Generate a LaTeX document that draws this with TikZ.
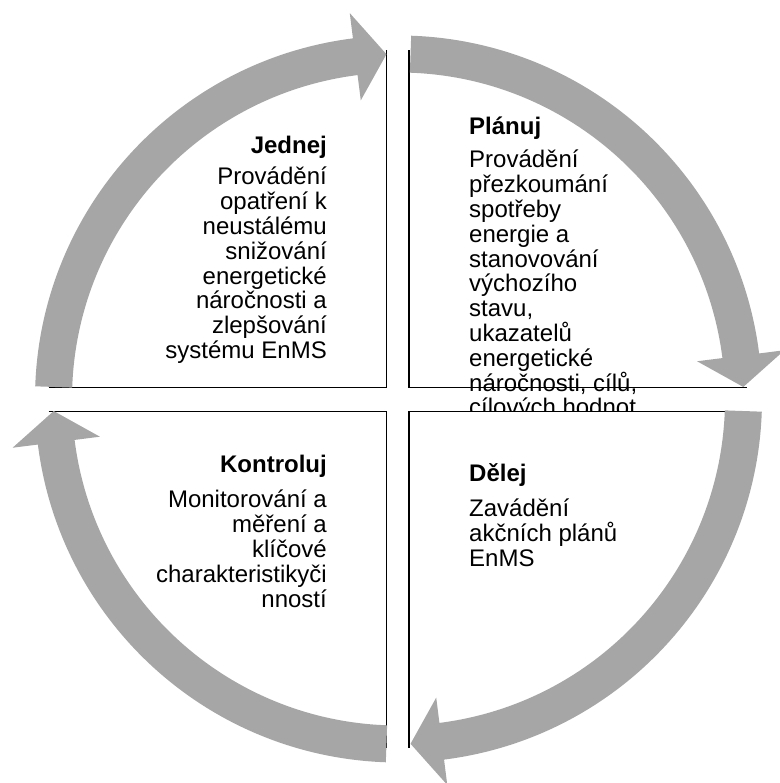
\documentclass[tikz,border=0pt]{standalone}
\usepackage{fontspec}
\setmainfont{Liberation Sans}
\usetikzlibrary{positioning}

\definecolor{cyclegray}{RGB}{166,166,166}

\tikzset{
  quadbox/.style={fill=white, inner sep=0pt, outer sep=0pt, minimum width=338, minimum height=337},
  quadline/.style={line width=1.8pt, black},
  titletext/.style={font=\fontsize{24}{24.8}\selectfont\bfseries, inner sep=0pt},
  bodytext/.style={font=\fontsize{24}{24.8}\selectfont, inner sep=0pt},
  cyclearrow/.style={fill=cyclegray},
}

\begin{document}
\begin{tikzpicture}[x=1pt,y=1pt]
  \useasboundingbox (0,0) rectangle (779,783);
  \coordinate (c) at (398.5,384);

  % the four quadrants (base of a text block = its last line)
  \node[quadbox] (tlbox) at (217.5,564) {};
  \node[quadbox] (trbox) at (578,564) {};

  \node[titletext, anchor=base east] (jednej) at (327,629) {Jednej};
  \node[bodytext, align=right, below=204.6pt of jednej.base east, anchor=base east] (jednejtext)
    {Provádění\\opatření k\\neustálému\\snižování\\energetické\\náročnosti a\\zlepšování\\systému EnMS};

  \node[titletext, anchor=base west] (planuj) at (469,648) {Plánuj};
  \node[bodytext, align=left, below=281pt of planuj.base west, anchor=base west] (planujtext)
    {Provádění\\přezkoumání\\spotřeby\\energie a\\stanovování\\výchozího\\stavu,\\ukazatelů\\energetické\\náročnosti, cílů,\\cílových hodnot};

  \node[quadbox] (blbox) at (217.5,203) {};
  \node[quadbox] (brbox) at (578,203) {};

  \node[titletext, anchor=base east] (kontroluj) at (327,310) {Kontroluj};
  \node[bodytext, align=right, below=134.2pt of kontroluj.base east, anchor=base east] (kontrolujtext)
    {Monitorování a\\měření a\\klíčové\\charakteristikyči\\nností};

  \node[titletext, anchor=base west] (delej) at (469,301) {Dělej};
  \node[bodytext, align=left, below=84.6pt of delej.base west, anchor=base west] (delejtext)
    {Zavádění\\akčních plánů\\EnMS};

  % inner edges only
  \draw[quadline] (tlbox.south west) -- (tlbox.south east) -- (tlbox.north east);
  \draw[quadline] (trbox.north west) -- (trbox.south west) -- (trbox.south east);
  \draw[quadline] (blbox.north west) -- (blbox.north east) -- (blbox.south east);
  \draw[quadline] (brbox.north east) -- (brbox.north west) -- (brbox.south west);

  % cycle arrows
  \foreach \a in {180,90,0,-90}
    \fill[cyclearrow, shift={(c)}] ({\a-2}:363.5) arc[start angle=\a-2, end angle=\a-82.8, radius=363.5]
      -- ({\a-82.8}:389) -- ({\a-88}:345) -- ({\a-82.8}:301) -- ({\a-82.8}:326.5)
      arc[start angle=\a-82.8, end angle=\a-2, radius=326.5] -- cycle;
\end{tikzpicture}
\end{document}
